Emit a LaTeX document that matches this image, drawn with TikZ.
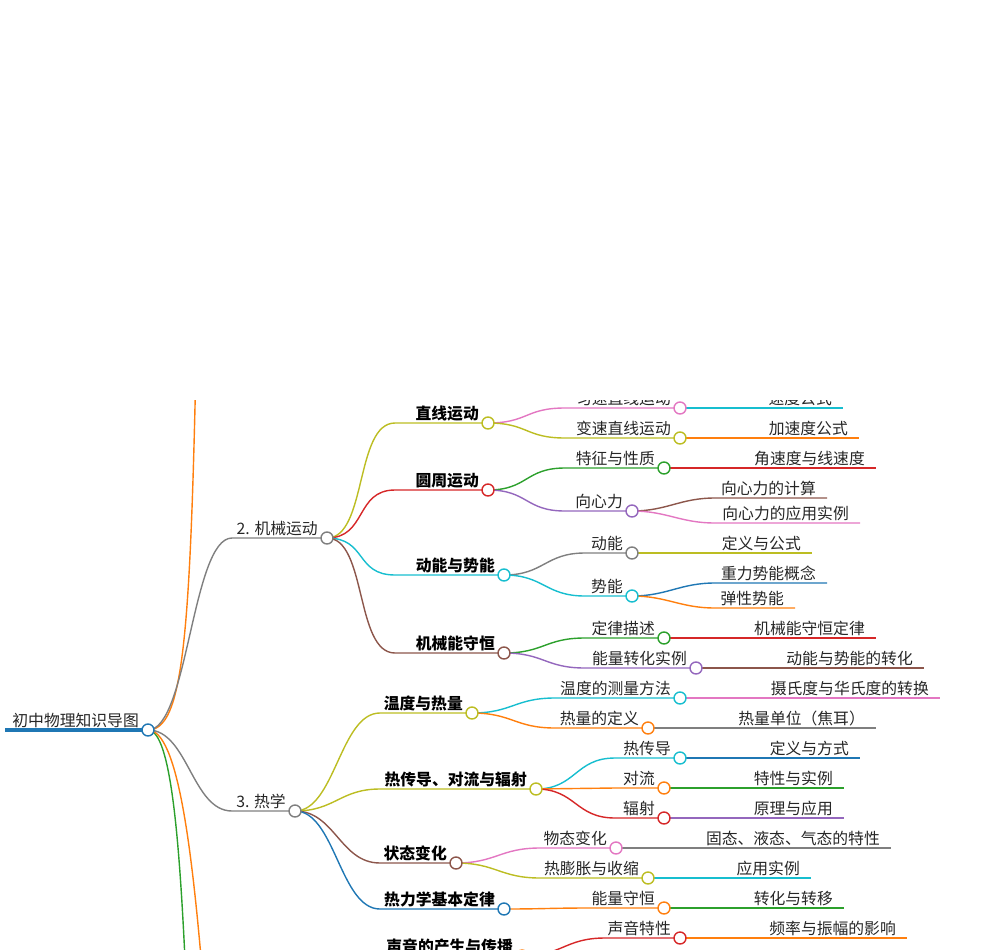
\documentclass[tikz,border=0pt]{standalone}
\usepackage{fontspec}
\setmainfont{Noto Sans CJK SC}
\definecolor{cblue}{HTML}{1F77B4}
\definecolor{corange}{HTML}{FF7F0E}
\definecolor{cgreen}{HTML}{2CA02C}
\definecolor{cred}{HTML}{D62728}
\definecolor{cpurple}{HTML}{9467BD}
\definecolor{cbrown}{HTML}{8C564B}
\definecolor{cpink}{HTML}{E377C2}
\definecolor{cgray}{HTML}{7F7F7F}
\definecolor{colive}{HTML}{BCBD22}
\definecolor{ccyan}{HTML}{17BECF}
\tikzset{
  edge/.style={line width=1.4pt},
  dot/.style={circle,draw=#1,fill=white,line width=1.4pt,minimum size=12pt,inner sep=0pt},
  lbl/.style={anchor=base east,inner sep=0pt,font=\fontsize{15.8}{18}\selectfont,text=black!85},
  hd/.style={lbl,font=\fontsize{15.8}{18}\selectfont\bfseries,text=black}
}
\begin{document}
\begin{tikzpicture}[x=1pt,y=-1pt]
\useasboundingbox (0,0) rectangle (993,950);
\begin{scope}
\clip (0,400) rectangle (993,950);
% circles' places
\foreach \n/\x/\y in {root/148/730,m/327/538,h/295/811,
  m1/488/423,m2/488/490,m3/504/575,m4/504/653,
  h1/472/713,h2/536/789,h3/456/863,h4/504/909,s/522/956,
  m11/680/408,m12/680/438,m21/664/468,m22/632/511,
  m31/632/553,m32/632/596,m41/664/638,m42/696/668,
  h11/680/698,h12/648/728,h21/680/758,h22/664/788,h23/664/818,
  h31/616/848,h32/648/878,h41/664/908,s1/680/938}
  \coordinate (\n) at (\x,\y);
% main branches
\draw[edge,cblue,line width=4pt] (5,730) -- (root);
\draw[edge,corange] (root) .. controls (190,730) and (192,600) .. (200,150);
\draw[edge,cgreen] (root) .. controls (172,730) and (180,850) .. (186,980);
\draw[edge,corange] (root) .. controls (178,730) and (192,850) .. (203,980);
% connectors: parent/child/start/colour
\foreach \p/\c/\sx/\col in {root/m/232/cgray,root/h/232/cgray,
  m/m1/395/colive,m/m2/395/cred,m/m3/395/ccyan,m/m4/395/cbrown,
  h/h1/380/colive,h/h2/380/colive,h/h3/380/cbrown,h/h4/380/cblue,
  m1/m11/565/cpink,m1/m12/565/colive,m2/m21/565/cgreen,m2/m22/565/cpurple,
  m3/m31/585/cgray,m3/m32/585/ccyan,m4/m41/585/cgreen,m4/m42/585/cpurple,
  h1/h11/555/ccyan,h1/h12/555/corange,
  h2/h21/615/ccyan,h2/h22/615/corange,h2/h23/615/cred,
  h3/h31/540/cpink,h3/h32/540/colive,h4/h41/590/corange,s/s1/605/cred}
  \draw[edge,\col] (\p) .. controls +(40,0) and +(-40,0) .. (\c -| \sx,0) -- (\c);
% leaves: parent/start/end/y/colour/text
\foreach \p/\sx/\ex/\y/\col/\t in {
  m11/700/843/408/ccyan/速度公式,
  m12/700/859/438/corange/加速度公式,
  m21/700/876/468/cred/角速度与线速度,
  m22/715/827/498/cbrown/向心力的计算,
  m22/715/860/523/cpink/向心力的应用实例,
  m31/700/812/553/colive/定义与公式,
  m32/715/827/583/cblue/重力势能概念,
  m32/715/795/608/corange/弹性势能,
  m41/700/876/638/cred/机械能守恒定律,
  m42/720/924/668/cbrown/动能与势能的转化,
  h11/700/940/698/cpink/摄氏度与华氏度的转换,
  h12/700/876/728/cgray/热量单位（焦耳）,
  h21/700/860/758/cblue/定义与方式,
  h22/700/844/788/cgreen/特性与实例,
  h23/700/844/818/cpurple/原理与应用,
  h31/640/891/848/cgray/固态、液态、气态的特性,
  h32/670/811/878/ccyan/应用实例,
  h41/690/844/908/cgreen/转化与转移,
  s1/700/907/938/corange/频率与振幅的影响}{
  \coordinate (\p-\ex) at (\ex,\y);
  \draw[edge,\col] (\p) .. controls +(35,0) and +(-35,0) .. (\sx,\y) -- (\p-\ex);
  \node[lbl] at ([shift={(-11,-4)}]\p-\ex) {\t};
}
% circles
\foreach \n/\col in {root/cblue,m/cgray,h/cgray,m1/colive,m2/cred,m3/ccyan,m4/cbrown,
  h1/colive,h2/colive,h3/cbrown,h4/cblue,s/corange,m11/cpink,m12/colive,m21/cgreen,
  m22/cpurple,m31/cgray,m32/ccyan,m41/cgreen,m42/cpurple,h11/ccyan,h12/corange,
  h21/ccyan,h22/corange,h23/cred,h31/cpink,h32/colive,h41/corange,s1/cred}
  \node[dot=\col] (\n-dot) at (\n) {};
% labels
\foreach \n/\t in {root/初中物理知识导图,m/2. 机械运动,h/3. 热学,
  m11/匀速直线运动,m12/变速直线运动,m21/特征与性质,m22/向心力,m31/动能,m32/势能,
  m41/定律描述,m42/能量转化实例,h11/温度的测量方法,h12/热量的定义,h21/热传导,
  h22/对流,h23/辐射,h31/物态变化,h32/热膨胀与收缩,h41/能量守恒,s1/声音特性}
  \node[lbl] at ([shift={(-9,-4)}]\n) {\t};
\foreach \n/\t in {m1/直线运动,m2/圆周运动,m3/动能与势能,m4/机械能守恒,
  h1/温度与热量,h2/热传导、对流与辐射,h3/状态变化,h4/热力学基本定律,s/声音的产生与传播}
  \node[hd] at ([shift={(-9,-4)}]\n) {\t};
\end{scope}
\end{tikzpicture}
\end{document}
